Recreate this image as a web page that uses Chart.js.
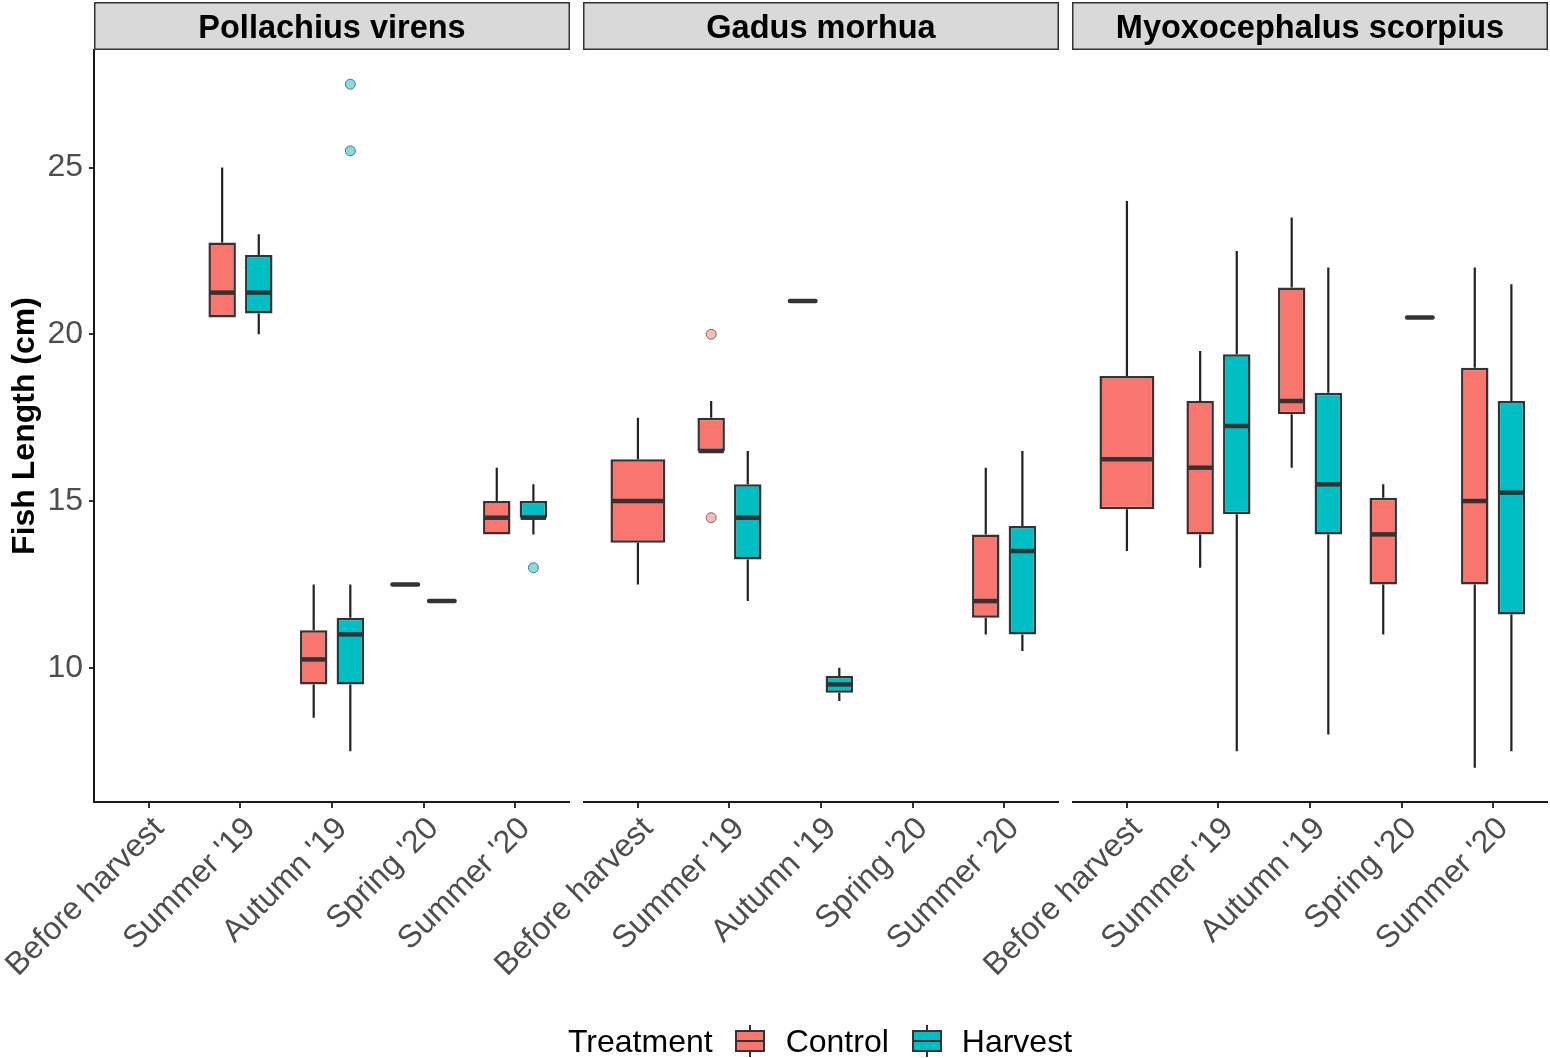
<!DOCTYPE html>
<html>
<head>
<meta charset="utf-8">
<title>Fish length by season and treatment</title>
<script src="https://cdn.jsdelivr.net/npm/chart.js@4/dist/chart.umd.min.js"></script>
<style>
  html, body { margin: 0; padding: 0; background: #fff; }
  #wrap { position: relative; width: 1550px; height: 1058px; font-family: "Liberation Sans", Arial, sans-serif; }
  #chartBox { position: absolute; left: 0; top: 0; width: 1550px; height: 1058px; }
  #legend { position: absolute; left: 568px; top: 1025px; height: 32px; display: flex; align-items: center; font-size: 32px; color: #000; white-space: nowrap; }
  .key { position: relative; width: 30px; height: 32px; flex: none; }
  .key .box { position: absolute; left: 0; top: 5px; width: 30px; height: 22px; box-sizing: border-box; border: 2px solid #333; }
  .key .box::after { content: ''; position: absolute; left: 0; right: 0; top: 8px; height: 2px; background: #333; }
  .key::before, .key::after { content: ''; position: absolute; left: 14px; width: 2px; background: #333; }
  .key::before { top: 0; height: 5px; }
  .key::after { bottom: 0; height: 5px; }
</style>
</head>
<body>
<div id="wrap">
  <div id="chartBox"><canvas id="chart"></canvas></div>
  <div id="legend">
    <span>Treatment</span>
    <span class="key" style="margin-left:22px"><span class="box" style="background:#F8766D"></span></span>
    <span style="margin-left:21px">Control</span>
    <span class="key" style="margin-left:23px"><span class="box" style="background:#00BFC4"></span></span>
    <span style="margin-left:20px">Harvest</span>
  </div>
</div>
<script>
const species = ['Pollachius virens', 'Gadus morhua', 'Myoxocephalus scorpius'];
const seasons = ['Before harvest', "Summer '19", "Autumn '19", "Spring '20", "Summer '20"];
const yTicks = [10, 15, 20, 25];

// 15 slots per treatment: species in order, five seasons each
const controlLow     = [null, 20.5, 8.5, 12.5, 14,     12.5, 16.5, 21, null, 11,     13.5, 13, 16, 11, 7];
const controlQ1      = [null, 20.5, 9.5, 12.5, 14,     13.75, 16.5, 21, null, 11.5,  14.75, 14, 17.6, 12.5, 12.5];
const controlMedian  = [null, 21.25, 10.25, 12.5, 14.5, 15, 16.5, 21, null, 12,      16.25, 16, 18, 14, 15];
const controlQ3      = [null, 22.75, 11.125, 12.5, 15, 16.25, 17.5, 21, null, 14,    18.75, 18, 21.4, 15.1, 19];
const controlHigh    = [null, 25, 12.5, 12.5, 16,      17.5, 18, 21, null, 16,       24, 19.5, 23.5, 15.5, 22];
const controlOutliers = [[], [], [], [], [],  [], [20, 14.5], [], [], [],  [], [], [], [], []];

const harvestLow     = [null, 20, 7.5, 12, 14,         null, 12, 9, null, 10.5,      null, 7.5, 8, 20.5, 7.5];
const harvestQ1      = [null, 20.625, 9.5, 12, 14.5,   null, 13.25, 9.25, null, 11,  null, 14.6, 14, 20.5, 11.6];
const harvestMedian  = [null, 21.25, 11, 12, 14.5,     null, 14.5, 9.5, null, 13.5,  null, 17.25, 15.5, 20.5, 15.25];
const harvestQ3      = [null, 22.375, 11.5, 12, 15,    null, 15.5, 9.75, null, 14.25, null, 19.4, 18.25, 20.5, 18];
const harvestHigh    = [null, 23, 12.5, 12, 15.5,      null, 16.5, 10, null, 16.5,   null, 22.5, 22, 20.5, 21.5];
const harvestOutliers = [[], [], [27.5, 25.5], [], [13],  [], [], [], [], [],  [], [], [], [], []];

// panels sit side by side on one linear x axis, 5.2 units wide with a small gap
const PANEL_STEP = 5.342;
const slotX = i => Math.floor(i / 5) * PANEL_STEP + (i % 5) + 1;
const slotPositions = controlQ1.map((_, i) => slotX(i));

function boxData(q1, q3) {
  return q1.map((v, i) => ({ x: slotX(i), y: v === null ? null : [v, q3[i]] }));
}

const stats = [
  { low: controlLow, median: controlMedian, high: controlHigh, q1: controlQ1, q3: controlQ3, outliers: controlOutliers, outlierFill: '#FBBAB6' },
  { low: harvestLow, median: harvestMedian, high: harvestHigh, q1: harvestQ1, q3: harvestQ3, outliers: harvestOutliers, outlierFill: '#80DFE2' }
];

const INK = '#333333';

const boxplotParts = {
  id: 'boxplotParts',
  beforeDatasetsDraw(chart) {
    const { ctx, scales: { y } } = chart;
    ctx.save();
    ctx.strokeStyle = '#222';
    ctx.lineWidth = 2.2;
    stats.forEach((s, d) => {
      chart.getDatasetMeta(d).data.forEach((bar, i) => {
        if (s.q1[i] === null) return;
        ctx.beginPath();
        ctx.moveTo(bar.x, y.getPixelForValue(s.q3[i]));
        ctx.lineTo(bar.x, y.getPixelForValue(s.high[i]));
        ctx.moveTo(bar.x, y.getPixelForValue(s.q1[i]));
        ctx.lineTo(bar.x, y.getPixelForValue(s.low[i]));
        ctx.stroke();
      });
    });
    ctx.restore();
  },
  afterDatasetsDraw(chart) {
    const { ctx, scales: { y } } = chart;
    ctx.save();
    stats.forEach((s, d) => {
      chart.getDatasetMeta(d).data.forEach((bar, i) => {
        if (s.q1[i] === null) return;
        const half = bar.width / 2;
        const my = y.getPixelForValue(s.median[i]);
        ctx.strokeStyle = INK;
        ctx.lineWidth = 4.5;
        ctx.lineCap = s.q1[i] === s.q3[i] ? 'round' : 'butt';
        ctx.beginPath();
        ctx.moveTo(bar.x - half + 1, my);
        ctx.lineTo(bar.x + half - 1, my);
        ctx.stroke();
        s.outliers[i].forEach(v => {
          ctx.beginPath();
          ctx.arc(bar.x, y.getPixelForValue(v), 5, 0, Math.PI * 2);
          ctx.fillStyle = s.outlierFill;
          ctx.fill();
          ctx.lineWidth = 1;
          ctx.strokeStyle = '#6b6b6b';
          ctx.stroke();
        });
      });
    });
    ctx.restore();
  },
  afterDraw(chart) {
    const { ctx, chartArea, scales: { x } } = chart;
    ctx.save();
    species.forEach((name, p) => {
      const left = x.getPixelForValue(p * PANEL_STEP + 0.4);
      const right = x.getPixelForValue(p * PANEL_STEP + 5.6);
      // strip header
      ctx.fillStyle = '#D9D9D9';
      ctx.fillRect(left, 2, right - left, chartArea.top - 2);
      ctx.strokeStyle = INK;
      ctx.lineWidth = 1.5;
      ctx.strokeRect(left + 0.75, 2.75, right - left - 1.5, chartArea.top - 3.5);
      ctx.fillStyle = '#000';
      ctx.font = 'bold 32.5px "Liberation Sans", Arial, sans-serif';
      ctx.textAlign = 'center';
      ctx.textBaseline = 'middle';
      ctx.fillText(name, (left + right) / 2, (chartArea.top + 2) / 2 + 3);
      // per-panel x axis line
      ctx.strokeStyle = '#1a1a1a';
      ctx.lineWidth = 2;
      ctx.beginPath();
      ctx.moveTo(left, chartArea.bottom);
      ctx.lineTo(right, chartArea.bottom);
      ctx.stroke();
    });
    ctx.restore();
  }
};

Chart.defaults.font.family = '"Liberation Sans", Arial, sans-serif';

new Chart(document.getElementById('chart'), {
  type: 'bar',
  data: {
    datasets: [
      {
        label: 'Control',
        data: boxData(controlQ1, controlQ3),
        backgroundColor: '#F8766D',
        borderColor: INK,
        borderWidth: 2.5,
        borderSkipped: false,
        skipNull: true
      },
      {
        label: 'Harvest',
        data: boxData(harvestQ1, harvestQ3),
        backgroundColor: '#00BFC4',
        borderColor: INK,
        borderWidth: 2.5,
        borderSkipped: false,
        skipNull: true
      }
    ]
  },
  options: {
    responsive: true,
    maintainAspectRatio: false,
    animation: false,
    categoryPercentage: 0.8,
    barPercentage: 0.75,
    layout: { padding: { top: 50, right: 2, bottom: 0, left: 0 } },
    plugins: {
      legend: { display: false },
      tooltip: { enabled: false }
    },
    scales: {
      x: {
        type: 'linear',
        offset: false,
        min: 0.4,
        max: 2 * PANEL_STEP + 5.6,
        afterBuildTicks: scale => { scale.ticks = slotPositions.map(v => ({ value: v })); },
        afterFit: scale => {
          scale.height = 256;
          scale.paddingLeft = 0;
          scale.paddingRight = 0;
        },
        border: { display: false },
        grid: { display: true, offset: false, drawOnChartArea: false, drawTicks: true, tickLength: 6, color: INK, lineWidth: 2 },
        ticks: {
          autoSkip: false,
          minRotation: 45,
          maxRotation: 45,
          padding: 2,
          labelOffset: 10,
          color: '#4D4D4D',
          font: { size: 32 },
          callback: (value, index) => seasons[index % 5]
        }
      },
      y: {
        min: 5.975,
        max: 28.525,
        afterBuildTicks: scale => { scale.ticks = yTicks.map(v => ({ value: v })); },
        afterFit: scale => { scale.width = 94; },
        border: { display: true, color: '#1a1a1a', width: 2 },
        grid: { display: true, drawOnChartArea: false, drawTicks: true, tickLength: 5, color: INK, lineWidth: 2 },
        ticks: { padding: 6, color: '#4D4D4D', font: { size: 32 } },
        title: {
          display: true,
          text: 'Fish Length (cm)',
          color: '#000',
          font: { size: 32, weight: 'bold', lineHeight: 1.2 },
          padding: { top: 6, bottom: 0 }
        }
      }
    }
  },
  plugins: [boxplotParts]
});
</script>
</body>
</html>
